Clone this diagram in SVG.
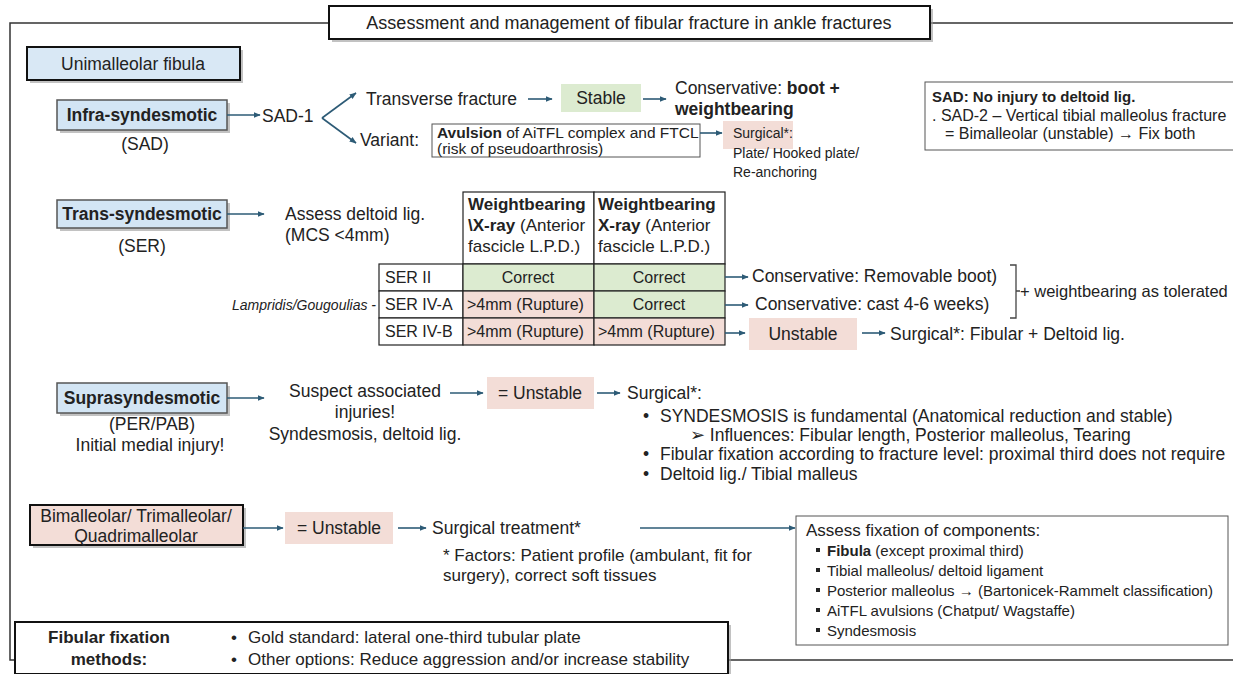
<svg xmlns="http://www.w3.org/2000/svg" width="1233" height="674" viewBox="0 0 1233 674">
<defs>
<marker id="ah" viewBox="0 0 10 10" refX="9" refY="5" markerWidth="7" markerHeight="7" markerUnits="userSpaceOnUse" orient="auto"><path d="M0,1 L10,5 L0,9 Z" fill="#2d5b76"/></marker>
<style>
text{font-family:"Liberation Sans",Arial,sans-serif;fill:#222}
.t{font-size:17.5px}
.h{font-size:17px}
.s{font-size:14px}
.m{font-size:16px}
.xs{font-size:15px}
.b{font-weight:bold}
.c{text-anchor:middle}
.frame{fill:none;stroke:#333;stroke-width:1.5}
.kbox{fill:#fff;stroke:#111;stroke-width:2}
.shadow{fill:#999;opacity:0.6}
.blue{fill:#d3e5f4;stroke:#555;stroke-width:1.5}
.pink{fill:#f3ddd7}
.green{fill:#dcebd0}
.cell{stroke:#222;stroke-width:1.2}
.thin{fill:#fff;stroke:#555;stroke-width:1}
.arr{fill:none;stroke:#2d5b76;stroke-width:1.6;marker-end:url(#ah)}
</style>
</defs>
<rect width="1233" height="674" fill="#fff"/>

<g id="frame">
<path class="frame" d="M329,23 H10 V660 H16"/>
<path class="frame" d="M930,23 H1233"/>
<path class="frame" d="M728,660 H1233"/>
</g>

<g id="title">
<rect class="shadow" x="332" y="9" width="601" height="33"/>
<rect class="kbox" x="329" y="6" width="601" height="33"/>
<text class="c" x="629" y="29" style="font-size:18px">Assessment and management of fibular fracture in ankle fractures</text>
</g>

<g id="unimalleolar">
<rect class="shadow" x="30" y="50" width="213" height="33"/>
<rect x="27" y="47" width="213" height="33" fill="#d9e8f5" stroke="#111" stroke-width="2"/>
<text class="t c" x="133" y="70">Unimalleolar fibula</text>
</g>

<g id="infra">
<rect class="shadow" x="60" y="103" width="170" height="30"/>
<rect class="blue" x="57" y="100" width="170" height="30"/>
<text class="t b c" x="142" y="121">Infra-syndesmotic</text>
<text class="t c" x="145" y="150">(SAD)</text>
</g>

<g id="sad1"><text class="t" x="262" y="122">SAD-1</text></g>
<g id="transverse"><text class="t" x="366" y="105">Transverse fracture</text></g>
<g id="stable"><rect class="green" x="561" y="84" width="80" height="28"/><text class="t c" x="601" y="104">Stable</text></g>
<g id="cons1"><text class="t" x="675" y="94">Conservative: <tspan class="b">boot +</tspan></text><text class="t b" x="675" y="115">weightbearing</text></g>
<g id="variant"><text class="t" x="360" y="146">Variant:</text></g>
<g id="avulsion">
<rect class="thin" x="432" y="124" width="268" height="33"/>
<text class="s" x="437" y="138" style="font-size:15.5px"><tspan class="b">Avulsion</tspan> of AiTFL complex and FTCL</text>
<text class="s" x="437" y="154" style="font-size:15.5px">(risk of pseudoarthrosis)</text>
</g>
<g id="surg1">
<rect class="pink" x="723" y="121" width="70" height="28"/>
<text class="s" x="733" y="138">Surgical*:</text>
<text class="s" x="733" y="158">Plate/ Hooked plate/</text>
<text class="s" x="733" y="177">Re-anchoring</text>
</g>
<g id="sadnote">
<rect class="thin" x="925" y="82" width="315" height="68"/>
<text class="b" x="932" y="102" style="font-size:15px">SAD: No injury to deltoid lig.</text>
<text class="m" x="932" y="121">. SAD-2 – Vertical tibial malleolus fracture</text>
<text class="m" x="945" y="139">= Bimalleolar (unstable) → Fix both</text>
</g>

<g id="trans">
<rect class="shadow" x="60" y="203" width="170" height="28"/>
<rect class="blue" x="57" y="200" width="170" height="28"/>
<text class="t b c" x="142" y="220">Trans-syndesmotic</text>
<text class="t c" x="142" y="252">(SER)</text>
</g>
<g id="assess"><text class="t" x="285" y="220">Assess deltoid lig.</text><text class="t" x="285" y="241">(MCS &lt;4mm)</text></g>

<g id="table">
<rect fill="#fff" class="cell" x="463" y="192" width="131" height="72"/>
<rect fill="#fff" class="cell" x="594" y="192" width="131" height="72"/>
<text class="h" x="468" y="210"><tspan class="b">Weightbearing</tspan></text>
<text class="h" x="468" y="231"><tspan class="b">\X-ray</tspan> (Anterior</text>
<text class="h" x="468" y="252">fascicle L.P.D.)</text>
<text class="h" x="598" y="210"><tspan class="b">Weightbearing</tspan></text>
<text class="h" x="598" y="231"><tspan class="b">X-ray</tspan> (Anterior</text>
<text class="h" x="598" y="252">fascicle L.P.D.)</text>
<rect fill="#fff" class="cell" x="379" y="264" width="84" height="27"/>
<rect class="cell green" x="463" y="264" width="131" height="27"/>
<rect class="cell green" x="594" y="264" width="131" height="27"/>
<rect fill="#fff" class="cell" x="379" y="291" width="84" height="27"/>
<rect class="cell pink" x="463" y="291" width="131" height="27"/>
<rect class="cell green" x="594" y="291" width="131" height="27"/>
<rect fill="#fff" class="cell" x="379" y="318" width="84" height="27"/>
<rect class="cell pink" x="463" y="318" width="131" height="27"/>
<rect class="cell pink" x="594" y="318" width="131" height="27"/>
<text class="m" x="385" y="283">SER II</text>
<text class="m" x="385" y="310">SER IV-A</text>
<text class="m" x="385" y="337">SER IV-B</text>
<text class="m c" x="528" y="283">Correct</text>
<text class="m c" x="659" y="283">Correct</text>
<text class="m" x="467" y="310">&gt;4mm (Rupture)</text>
<text class="m c" x="659" y="310">Correct</text>
<text class="m" x="467" y="337">&gt;4mm (Rupture)</text>
<text class="m" x="598" y="337">&gt;4mm (Rupture)</text>
<text class="s" x="376" y="310" text-anchor="end" font-style="italic">Lampridis/Gougoulias -</text>
</g>
<g id="consser"><text class="t" x="752" y="282">Conservative: Removable boot)</text><text class="t" x="755" y="310">Conservative: cast 4-6 weeks)</text></g>
<g id="bracket"><path d="M1010,265 H1016 V318 H1010 M1016,291 H1020" fill="none" stroke="#444" stroke-width="1.3"/><text x="1020" y="297" style="font-size:16.5px">+ weightbearing as tolerated</text></g>
<g id="unstable1"><rect class="pink" x="749" y="318" width="108" height="32"/><text class="t c" x="803" y="340">Unstable</text></g>
<g id="surg2"><text class="t" x="890" y="340">Surgical*: Fibular + Deltoid lig.</text></g>

<g id="supra">
<rect class="shadow" x="60" y="386" width="170" height="30"/>
<rect class="blue" x="57" y="383" width="170" height="30"/>
<text class="t b c" x="142" y="404">Suprasyndesmotic</text>
<text class="t c" x="152" y="430">(PER/PAB)</text>
<text class="t c" x="150" y="451">Initial medial injury!</text>
</g>
<g id="suspect"><text class="t c" x="365" y="397">Suspect associated</text><text class="t c" x="365" y="418">injuries!</text><text class="t c" x="365" y="440">Syndesmosis, deltoid lig.</text></g>
<g id="unstable2"><rect class="pink" x="487" y="377" width="107" height="32"/><text class="t c" x="540" y="399">= Unstable</text></g>
<g id="surg3">
<text class="t" x="627" y="399">Surgical*:</text>
<text class="t" x="643" y="422">•</text><text class="t" x="660" y="422">SYNDESMOSIS is fundamental (Anatomical reduction and stable)</text>
<text class="t" x="690" y="441">➢ Influences: Fibular length, Posterior malleolus, Tearing</text>
<text class="t" x="643" y="460">•</text><text class="t" x="660" y="460">Fibular fixation according to fracture level: proximal third does not require</text>
<text class="t" x="643" y="480">•</text><text class="t" x="660" y="480">Deltoid lig./ Tibial malleus</text>
</g>

<g id="bimal">
<rect class="shadow" x="33" y="508" width="213" height="40"/>
<rect x="30" y="505" width="213" height="40" fill="#f3ddd7" stroke="#111" stroke-width="2"/>
<text class="t c" x="136" y="522">Bimalleolar/ Trimalleolar/</text>
<text class="t c" x="136" y="542">Quadrimalleolar</text>
</g>
<g id="unstable3"><rect class="pink" x="285" y="512" width="108" height="32"/><text class="t c" x="339" y="534">= Unstable</text></g>
<g id="surg4">
<text class="t" x="432" y="534">Surgical treatment*</text>
<text x="443" y="561" style="font-size:17px">* Factors: Patient profile (ambulant, fit for</text>
<text x="443" y="581" style="font-size:17px">surgery), correct soft tissues</text>
</g>
<g id="fixcomp">
<rect class="thin" x="796" y="516" width="432" height="129"/>
<text class="h" x="806" y="536">Assess fixation of components:</text>
<rect x="816" y="548" width="4" height="4" fill="#222"/><text class="xs" x="827" y="556"><tspan class="b">Fibula</tspan> (except proximal third)</text>
<rect x="816" y="568" width="4" height="4" fill="#222"/><text class="xs" x="827" y="576">Tibial malleolus/ deltoid ligament</text>
<rect x="816" y="588" width="4" height="4" fill="#222"/><text class="xs" x="827" y="596">Posterior malleolus → (Bartonicek-Rammelt classification)</text>
<rect x="816" y="608" width="4" height="4" fill="#222"/><text class="xs" x="827" y="616">AiTFL avulsions (Chatput/ Wagstaffe)</text>
<rect x="816" y="628" width="4" height="4" fill="#222"/><text class="xs" x="827" y="636">Syndesmosis</text>
</g>

<g id="fibfix">
<rect class="shadow" x="18" y="625" width="713" height="52"/>
<rect class="kbox" x="15" y="622" width="713" height="52"/>
<text class="h b c" x="109" y="643">Fibular fixation</text>
<text class="h b c" x="109" y="665">methods:</text>
<text class="h" x="231" y="643">•</text><text class="h" x="248" y="643">Gold standard: lateral one-third tubular plate</text>
<text class="h" x="231" y="665">•</text><text class="h" x="248" y="665">Other options: Reduce aggression and/or increase stability</text>
</g>

<g id="connectors">
<line class="arr" x1="227" y1="115" x2="260" y2="115"/>
<line class="arr" x1="322" y1="118" x2="356" y2="93"/>
<line class="arr" x1="322" y1="118" x2="356" y2="143"/>
<line class="arr" x1="528" y1="99" x2="552" y2="99"/>
<line class="arr" x1="643" y1="99" x2="666" y2="99"/>
<line class="arr" x1="700" y1="133" x2="722" y2="133"/>
<line class="arr" x1="227" y1="214" x2="264" y2="214"/>
<line class="arr" x1="725" y1="277" x2="748" y2="277"/>
<line class="arr" x1="725" y1="305" x2="748" y2="305"/>
<line class="arr" x1="725" y1="333" x2="745" y2="333"/>
<line class="arr" x1="862" y1="333" x2="885" y2="333"/>
<line class="arr" x1="227" y1="398" x2="264" y2="398"/>
<line class="arr" x1="450" y1="393" x2="483" y2="393"/>
<line class="arr" x1="597" y1="393" x2="620" y2="393"/>
<line class="arr" x1="243" y1="528" x2="283" y2="528"/>
<line class="arr" x1="398" y1="528" x2="426" y2="528"/>
<line class="arr" x1="640" y1="528" x2="795" y2="528"/>
</g>
</svg>
